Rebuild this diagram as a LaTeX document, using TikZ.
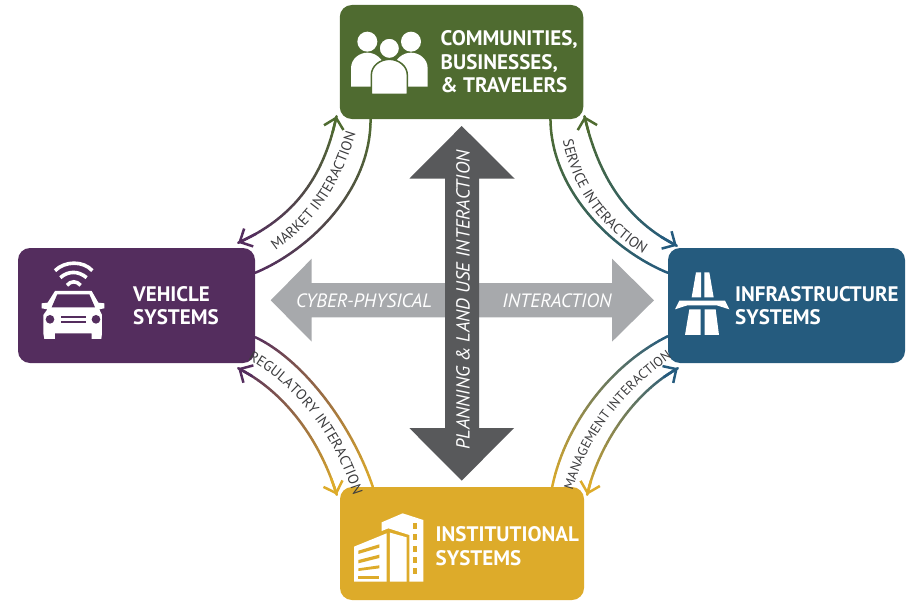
\documentclass[tikz,border=0pt]{standalone}
\usepackage{fontspec}
\setmainfont{PT Sans}
\usetikzlibrary{arrows.meta,decorations.text}
\definecolor{greenbox}{HTML}{4F6B30}
\definecolor{purplebox}{HTML}{542D5E}
\definecolor{bluebox}{HTML}{255B7E}
\definecolor{goldbox}{HTML}{DDAB2A}
\definecolor{darkarrow}{HTML}{58595B}
\definecolor{lightarrow}{HTML}{A7A9AC}
\definecolor{curvetext}{HTML}{3C3C3E}

\tikzset{
box/.style={rounded corners=12pt,inner sep=0pt},
boxlabel/.style={text=white,anchor=west,inner sep=0pt,align=left,font=\fontsize{21}{23.5}\selectfont\bfseries},
arrowlabel/.style={text=white,inner sep=0pt,font=\fontsize{19.3}{24}\selectfont\itshape},
linkpiece/.style={line width=2.5pt,line cap=round},
linktip/.style={line width=2.5pt,line cap=round,-{Straight Barb[length=10pt,width=20pt,line width=2.5pt]}},
curvelabel/.style 2 args={decorate,decoration={text along path,text align=center,text={|\fontsize{#1}{16}\selectfont\color{curvetext}|#2}}}
}

\newcommand{\gradlink}[6]{
\foreach \i in {1,...,40}{
\pgfmathsetmacro{\posa}{(\i-1)/40}
\pgfmathsetmacro{\posb}{\i/40}
\pgfmathsetmacro{\mixval}{100-(\i-0.5)*2.5}
\path (#1) .. controls (#2) and (#3) .. (#4) coordinate[pos=\posa] (pa) coordinate[pos=\posb] (pb);
\draw[linkpiece,color=#5!\mixval!#6] (pa) -- (pb);
}
\path (#1) .. controls (#2) and (#3) .. (#4) coordinate[pos=0.1] (tipa) coordinate[pos=0.9] (tipb);
}

\begin{document}
\begin{tikzpicture}[x=1pt,y=-1pt]
\useasboundingbox (0,0) rectangle (918,602);

\node[box,fill=greenbox,minimum width=243.5pt,minimum height=114pt] (communities) at (461.5,62) {};
\node[box,fill=purplebox,minimum width=237pt,minimum height=115pt] (vehicle) at (136.5,305.5) {};
\node[box,fill=bluebox,minimum width=237pt,minimum height=115pt] (infrastructure) at (786.5,305.5) {};
\node[box,fill=goldbox,minimum width=244pt,minimum height=113pt] (institutional) at (462,543.5) {};

\coordinate (mktA) at ([shift={(31,0)}]communities.south west);
\coordinate (mktB) at ([shift={(0,25)}]vehicle.north east);
\coordinate (mktC) at ([shift={(-3,-3)}]communities.south west);
\coordinate (mktD) at ([shift={(-17,-5)}]vehicle.north east);
\gradlink{mktA}{371,190}{310,250}{mktB}{greenbox}{purplebox}
\gradlink{mktC}{325,170}{300,215}{mktD}{greenbox}{purplebox}
\draw[linktip,color=greenbox] (tipa) -- (mktC);
\draw[linktip,color=purplebox] (tipb) -- (mktD);

\coordinate (srvA) at ([shift={(-33,0)}]communities.south east);
\coordinate (srvB) at ([shift={(0,25)}]infrastructure.north west);
\coordinate (srvC) at ([shift={(1,-3)}]communities.south east);
\coordinate (srvD) at ([shift={(9,-2)}]infrastructure.north west);
\gradlink{srvA}{551,190}{612,250}{srvB}{greenbox}{bluebox}
\gradlink{srvC}{597,170}{622,218}{srvD}{greenbox}{bluebox}
\draw[linktip,color=greenbox] (tipa) -- (srvC);
\draw[linktip,color=bluebox] (tipb) -- (srvD);

\coordinate (regA) at ([shift={(0,-26)}]vehicle.south east);
\coordinate (regB) at ([shift={(33,0)}]institutional.north west);
\coordinate (regC) at ([shift={(-17,5)}]vehicle.south east);
\coordinate (regD) at ([shift={(-3,8)}]institutional.north west);
\gradlink{regA}{300,358}{350,420}{regB}{purplebox}{goldbox}
\gradlink{regC}{285,392}{320,440}{regD}{purplebox}{goldbox}
\draw[linktip,color=purplebox] (tipa) -- (regC);
\draw[linktip,color=goldbox] (tipb) -- (regD);

\coordinate (mgtA) at ([shift={(-32,0)}]institutional.north east);
\coordinate (mgtB) at ([shift={(0,-27)}]infrastructure.south west);
\coordinate (mgtC) at ([shift={(3,8)}]institutional.north east);
\coordinate (mgtD) at ([shift={(10,5)}]infrastructure.south west);
\gradlink{mgtA}{565,425}{610,365}{mgtB}{goldbox}{bluebox}
\gradlink{mgtC}{597,450}{630,395}{mgtD}{goldbox}{bluebox}
\draw[linktip,color=goldbox] (tipa) -- (mgtC);
\draw[linktip,color=bluebox] (tipb) -- (mgtD);

\path[curvelabel={14.5}{MARKET INTERACTION}] (262,259) .. controls (310,230) and (342,190) .. (360,118);
\path[curvelabel={14.5}{SERVICE INTERACTION}] (559,117) .. controls (568,195) and (605,235) .. (664,266);
\path[curvelabel={14.5}{REGULATORY INTERACTION}] (240,355) .. controls (290,380) and (335,430) .. (356,504);
\path[curvelabel={13.4}{MANAGEMENT INTERACTION}] (570,502) .. controls (581,447) and (618,392) .. (682,351);

\fill[lightarrow] (270.7,300.3) -- (311.7,258.7) -- (311.7,283) -- (612,283) -- (612,258.7) -- (654,300.3) -- (612,341.7) -- (612,317.3) -- (311.7,317.3) -- (311.7,341.7) -- cycle;
\fill[darkarrow] (461.7,126) -- (514.7,178.7) -- (479,178.7) -- (479,428) -- (514,428) -- (461.7,480.7) -- (409.3,428) -- (445,428) -- (445,178.7) -- (409.3,178.7) -- cycle;

\node[arrowlabel] (cyber) at (364,301) {CYBER-PHYSICAL};
\node[arrowlabel] (interaction) at (557,301) {INTERACTION};
\node[arrowlabel,rotate=90,font=\fontsize{18.9}{24}\selectfont\itshape] (planning) at (463,300) {PLANNING \& LAND USE INTERACTION};

\node[boxlabel] (communitiestext) at (440.5,62) {COMMUNITIES,\\BUSINESSES,\\\& TRAVELERS};
\node[boxlabel] (vehicletext) at (133,305.5) {VEHICLE\\SYSTEMS};
\node[boxlabel] (infrastructuretext) at (735,305.5) {INFRASTRUCTURE\\SYSTEMS};
\node[boxlabel] (institutionaltext) at (435.5,546) {INSTITUTIONAL\\SYSTEMS};

\begin{scope}[shift={(330,0)},x=0.3333pt,y=-0.3333pt]
\fill[white] (112,125) circle (30);
\fill[white] (243,125) circle (30);
\fill[white] (63,260) -- (63,205) .. controls (63,175) and (90,158) .. (112,158) .. controls (135,158) and (160,175) .. (165,205) -- (165,260) -- cycle;
\fill[white] (293,260) -- (293,205) .. controls (293,175) and (266,158) .. (243,158) .. controls (220,158) and (195,175) .. (190,205) -- (190,260) -- cycle;
\fill[white,draw=greenbox,line width=1.5pt] (178,145) circle (31);
\fill[white,draw=greenbox,line width=1.5pt] (124,283) -- (124,225) .. controls (124,198) and (150,178) .. (178,178) .. controls (206,178) and (232,198) .. (232,225) -- (232,283) -- cycle;
\end{scope}

\begin{scope}[shift={(0,240)},x=0.3333pt,y=-0.3333pt]
\draw[white,line width=3.6pt] (165,92) .. controls (195,62) and (250,62) .. (277,92);
\draw[white,line width=3.6pt] (181,113) .. controls (205,92) and (235,92) .. (260,113);
\draw[white,line width=3.6pt] (201,136) .. controls (212,122) and (230,122) .. (242,136);
\fill[white] (165,153) -- (275,153) -- (295,188) -- (313,190) -- (313,205) -- (298,208) -- (306,225) -- (306,280) -- (304,297) -- (275,297) -- (275,280) -- (165,280) -- (165,297) -- (133,297) -- (130,280) -- (130,225) -- (142,208) -- (125,205) -- (125,190) -- (143,188) -- cycle;
\fill[purplebox] (172,163) -- (268,163) -- (285,202) -- (155,202) -- cycle;
\fill[purplebox] (150,238) circle (13);
\fill[purplebox] (288,238) circle (13);
\fill[purplebox] (183,229) rectangle (258,234);
\fill[purplebox] (183,243) rectangle (258,248);
\end{scope}

\begin{scope}[shift={(650,240)},x=0.3333pt,y=-0.3333pt]
\fill[white] (138,97) -- (153,97) -- (153,172) -- (125,172) -- cycle;
\fill[white] (163,97) -- (178,97) -- (191,172) -- (163,172) -- cycle;
\fill[white] (88,182) -- (225,182) -- (238,208) -- (200,196) -- (112,196) -- (75,208) -- cycle;
\fill[white] (118,208) -- (152,208) -- (152,285) -- (105,285) -- cycle;
\fill[white] (164,208) -- (197,208) -- (207,285) -- (164,285) -- cycle;
\end{scope}

\begin{scope}[shift={(330,480)},x=0.3333pt,y=-0.3333pt]
\fill[white] (155,127) -- (218,100) -- (280,120) -- (280,305) -- (238,305) -- (238,165) -- (175,145) -- (155,153) -- cycle;
\foreach \w in {130,163,198,232,265}
\fill[goldbox] (250,\w) rectangle (262,\w+18);
\fill[white] (180,158) -- (230,172) -- (230,305) -- (180,305) -- cycle;
\fill[white] (72,200) -- (170,160) -- (170,305) -- (72,305) -- cycle;
\fill[goldbox] (85,212) -- (148,193) -- (148,203) -- (85,222) -- cycle;
\fill[goldbox] (85,240) -- (148,224) -- (148,234) -- (85,250) -- cycle;
\fill[goldbox] (85,265) -- (148,256) -- (148,265) -- (85,273) -- cycle;
\fill[goldbox] (85,289) rectangle (148,298);
\end{scope}

\end{tikzpicture}
\end{document}
